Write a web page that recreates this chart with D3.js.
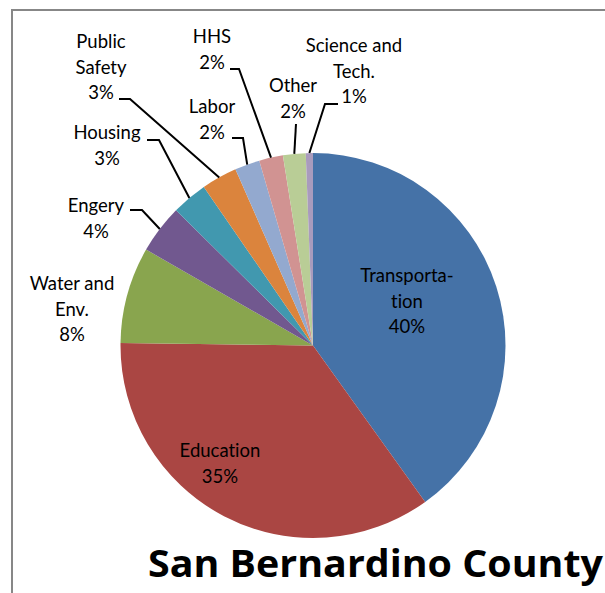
<!DOCTYPE html>
<html>
<head>
<meta charset="utf-8">
<script src="https://cdn.jsdelivr.net/npm/d3@7"></script>
<style>
  body { margin: 0; background: #fff; }
  svg { display: block; }
  text { font-variant-ligatures: none; }
</style>
</head>
<body>
<div class="stage"></div>
<script>
// slice data, clockwise from 12 o'clock
var categories = ["Transportation", "Education", "Water and Env.", "Engery", "Housing",
                  "Public Safety", "Labor", "HHS", "Other", "Science and Tech."];
var values = [40.1, 35.1, 8.1, 4.1, 3.0, 3.0, 2.1, 2.0, 1.9, 0.6];
// how each label name is broken over lines
var labelLines = [["Transporta-", "tion"], ["Education"], ["Water and", "Env."], ["Engery"], ["Housing"],
                  ["Public", "Safety"], ["Labor"], ["HHS"], ["Other"], ["Science and", "Tech."]];
var colors = ["#4572A7", "#AA4643", "#89A54E", "#71588F", "#4198AF",
              "#DB843D", "#93A9CF", "#D19392", "#B9CD96", "#A99BBD"];
var title = "San Bernardino County";

var width = 605, height = 593;
var cx = 313, cy = 345.5, radius = 192.5;
var lineH = 25.5;

// label placement: text centre x, first baseline y
var labelPos = [[407, 282], [220, 457], [72, 290], [96, 212], [107, 139],
                [101, 48], [212, 113], [212, 43], [293, 92], [354, 52]];
// leader lines: start next to the label, then knee, then onto the slice edge
var leaders = [null, null, null,
               [[130, 210], [142, 210]],
               [[147, 140], [159, 140]],
               [[119, 99], [130, 99]],
               [[232, 138], [243, 138]],
               [[230, 69], [239, 69]],
               [[296, 124], [296, 124]],
               [[338, 104], [325, 104]]];

var svg = d3.select(".stage").append("svg")
    .attr("width", width)
    .attr("height", height);

svg.append("rect")
    .attr("width", width).attr("height", height)
    .attr("fill", "#fff");

// chart frame (cut off at the right and bottom)
svg.append("rect")
    .attr("x", 12).attr("y", 10)
    .attr("width", width + 20).attr("height", height + 20)
    .attr("fill", "none")
    .attr("stroke", "#878787")
    .attr("stroke-width", 2);

var total = d3.sum(values);
var fmt = d3.format(".0%");

var pie = d3.pie().sort(null).value(function(d) { return d; });
var arcs = pie(values);

var arc = d3.arc().innerRadius(0).outerRadius(radius);
var edge = d3.arc().innerRadius(radius).outerRadius(radius);

var g = svg.append("g").attr("transform", "translate(" + cx + "," + cy + ")");

g.selectAll(".slice")
  .data(arcs)
  .enter().append("path")
    .attr("class", "slice")
    .attr("d", arc)
    .attr("fill", function(d, i) { return colors[i]; });

// leader lines
var line = d3.line();
arcs.forEach(function(d, i) {
  if (!leaders[i]) return;
  var p = edge.centroid(d);
  svg.append("path")
    .attr("d", line([leaders[i][0], leaders[i][1], [p[0] + cx, p[1] + cy]]))
    .attr("fill", "none")
    .attr("stroke", "#000")
    .attr("stroke-width", 2);
});

// labels
arcs.forEach(function(d, i) {
  var lines = labelLines[i].concat([fmt(values[i] / total)]);
  var t = svg.append("text")
    .attr("text-anchor", "middle")
    .attr("font-family", "Lato, 'Open Sans', sans-serif")
    .attr("font-size", "18.5px")
    .attr("fill", "#000");
  lines.forEach(function(s, k) {
    t.append("tspan")
      .attr("x", labelPos[i][0])
      .attr("y", labelPos[i][1] + k * lineH)
      .text(s);
  });
});

var tt = svg.append("text")
    .attr("x", 148)
    .attr("y", 577)
    .attr("font-family", "'Open Sans', Lato, sans-serif")
    .attr("font-weight", "bold")
    .attr("font-size", "37px")
    .attr("fill", "#000")
    .text(title);
tt.attr("textLength", 455).attr("lengthAdjust", "spacingAndGlyphs");
</script>
</body>
</html>
